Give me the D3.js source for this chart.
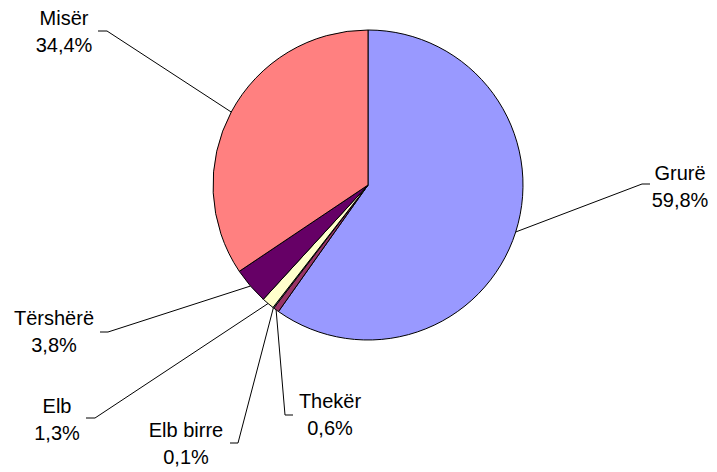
<!DOCTYPE html>
<html>
<head>
<meta charset="utf-8">
<script src="https://cdn.jsdelivr.net/npm/d3@7"></script>
<style>
  body { margin: 0; background: #fff; }
  text { font-family: "Liberation Sans", Arial, sans-serif; font-size: 20px; fill: #000; }
</style>
</head>
<body>
<div id="chart"></div>
<script>
var categories = ['Grurë', 'Thekër', 'Elb birre', 'Elb', 'Tërshërë', 'Misër'];
var values = [59.8, 0.6, 0.1, 1.3, 3.8, 34.4];
var colors = ['#9999FF', '#993366', '#CCFFFF', '#FFFFCC', '#660066', '#FF8080'];

// where each label sits (text centre x, first baseline y) and where its leader elbow is
var labelPos = [
    { x: 680, y: 180, ex: 650, ey: 184, kx: 642 },
    { x: 330, y: 408, ex: 293, ey: 415, kx: 285 },
    { x: 186, y: 437, ex: 230, ey: 443, kx: 238 },
    { x: 57, y: 413, ex: 86, ey: 418, kx: 95 },
    { x: 54, y: 325, ex: 100, ey: 332, kx: 108 },
    { x: 64, y: 25, ex: 98, ey: 31, kx: 107 }
];

var width = 717, height = 472;
var cx = 368, cy = 185, radius = 155;

var svg = d3.select("#chart").append("svg")
    .attr("width", width)
    .attr("height", height);

var data = categories.map(function (c, i) { return { name: c, value: values[i], i: i }; });

var pie = d3.pie()
    .sort(null)
    .value(function (d) { return d.value; });

var arc = d3.arc()
    .innerRadius(0)
    .outerRadius(radius);

var arcs = pie(data);

var g = svg.append("g")
    .attr("transform", "translate(" + cx + "," + cy + ")");

g.selectAll("path.slice")
    .data(arcs)
    .enter().append("path")
    .attr("class", "slice")
    .attr("d", arc)
    .attr("fill", function (d) { return colors[d.data.i]; })
    .attr("stroke", "#000")
    .attr("stroke-width", 1)
    .attr("stroke-linejoin", "round");

// leader lines
arcs.forEach(function (d) {
    var p = labelPos[d.data.i];
    var mid = (d.startAngle + d.endAngle) / 2;
    var px = cx + radius * Math.sin(mid);
    var py = cy - radius * Math.cos(mid);
    svg.append("polyline")
        .attr("points", [[p.ex, p.ey], [p.kx, p.ey], [px, py]].map(function (q) { return q.join(","); }).join(" "))
        .attr("fill", "none")
        .attr("stroke", "#000")
        .attr("stroke-width", 1);
});

// labels
var fmt = function (v) { return v.toFixed(1).replace(".", ",") + "%"; };

var labels = svg.selectAll("text.lbl")
    .data(data)
    .enter().append("text")
    .attr("class", "lbl")
    .attr("text-anchor", "middle")
    .attr("x", function (d) { return labelPos[d.i].x; })
    .attr("y", function (d) { return labelPos[d.i].y; });

labels.append("tspan")
    .attr("x", function (d) { return labelPos[d.i].x; })
    .text(function (d) { return d.name; });

labels.append("tspan")
    .attr("x", function (d) { return labelPos[d.i].x; })
    .attr("dy", 27)
    .text(function (d) { return fmt(d.value); });
</script>
</body>
</html>
